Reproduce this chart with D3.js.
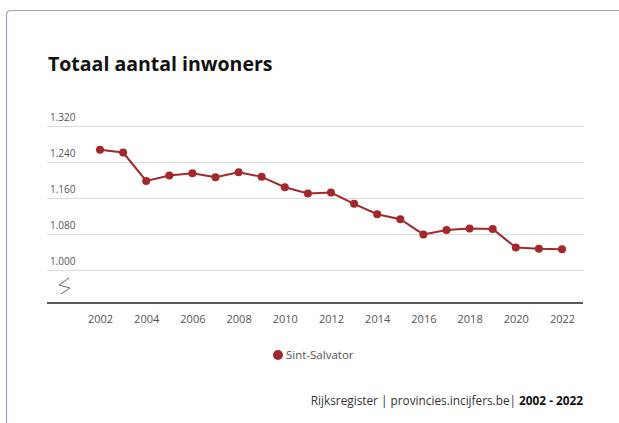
<!DOCTYPE html>
<html>
<head>
<meta charset="utf-8">
<script src="https://cdn.jsdelivr.net/npm/d3@7"></script>
<style>
  html, body { margin: 0; padding: 0; background: #fff; }
  svg { display: block; }
</style>
</head>
<body>
<div id="chart"></div>
<script>
const years = [2002, 2003, 2004, 2005, 2006, 2007, 2008, 2009, 2010, 2011, 2012,
               2013, 2014, 2015, 2016, 2017, 2018, 2019, 2020, 2021, 2022];
const inwoners = [1267, 1261, 1198, 1210, 1215, 1206, 1217, 1207, 1184, 1170, 1172,
                  1147, 1124, 1113, 1079, 1089, 1092, 1091, 1050, 1047, 1046];
const yTicks = [1000, 1080, 1160, 1240, 1320];
const xTicks = [2002, 2004, 2006, 2008, 2010, 2012, 2014, 2016, 2018, 2020, 2022];
const seriesName = "Sint-Salvator";

const width = 619, height = 423;
const red = "#a3282b";

const svg = d3.select("#chart").append("svg")
    .attr("width", width)
    .attr("height", height);

// card
svg.append("path")
    .attr("d", "M6.5," + (height + 5) + " L6.5,15 Q6.5,10.5 11,10.5 L" + (width + 5) + ",10.5")
    .attr("fill", "none")
    .attr("stroke", "#a3a3bb")
    .attr("stroke-width", 1.2);

svg.append("text")
    .attr("x", 48).attr("y", 71)
    .attr("font-family", "'Open Sans', sans-serif")
    .attr("font-weight", "bold")
    .attr("font-size", "19.5px")
    .attr("fill", "#111")
    .text("Totaal aantal inwoners");

const x = d3.scaleLinear().domain([2002, 2022]).range([100, 562]);
const y = d3.scaleLinear().domain([1000, 1320]).range([270, 126]);
const axisY = y(1000) + 33;

// gridlines + labels
const grid = svg.append("g");
grid.selectAll("line")
    .data(yTicks)
    .join("line")
    .attr("x1", 47).attr("x2", 583)
    .attr("y1", function(d) { return y(d) + 0.5; })
    .attr("y2", function(d) { return y(d) + 0.5; })
    .attr("stroke", "#dcdcdc")
    .attr("stroke-width", 1);

grid.selectAll("text")
    .data(yTicks)
    .join("text")
    .attr("x", 50)
    .attr("y", function(d) { return y(d) - 5; })
    .attr("font-family", "'Open Sans', sans-serif")
    .attr("font-size", "10px")
    .attr("fill", "#555")
    .text(function(d) { return d3.format(",")(d).replace(",", "."); });

// axis break symbol
svg.append("path")
    .attr("d", "M69,278 L59,285 L70,288 L61,294")
    .attr("fill", "none")
    .attr("stroke", "#666")
    .attr("stroke-width", 1);

// x axis
const xAxis = d3.axisBottom(x)
    .tickValues(xTicks)
    .tickSize(0)
    .tickPadding(12)
    .tickFormat(d3.format("d"));

const gx = svg.append("g")
    .attr("transform", "translate(0," + axisY + ")")
    .call(xAxis);
gx.select(".domain").remove();
gx.append("line")
    .attr("x1", 47).attr("x2", 583)
    .attr("stroke", "#222").attr("stroke-width", 1.5);
gx.selectAll("text")
    .attr("font-family", "'Open Sans', sans-serif")
    .attr("font-size", "11px")
    .attr("fill", "#555");

// line + dots
const pts = years.map(function(yr, i) { return { year: yr, value: inwoners[i] }; });

svg.append("path")
    .datum(pts)
    .attr("fill", "none")
    .attr("stroke", red)
    .attr("stroke-width", 2)
    .attr("d", d3.line()
        .x(function(d) { return x(d.year); })
        .y(function(d) { return y(d.value); }));

svg.append("g")
    .selectAll("circle")
    .data(pts)
    .join("circle")
    .attr("cx", function(d) { return x(d.year); })
    .attr("cy", function(d) { return y(d.value); })
    .attr("r", 4)
    .attr("fill", red);

// legend
svg.append("circle")
    .attr("cx", 278).attr("cy", 355).attr("r", 5)
    .attr("fill", red);
svg.append("text")
    .attr("x", 286).attr("y", 359)
    .attr("font-family", "'Open Sans', sans-serif")
    .attr("font-size", "11.5px")
    .attr("fill", "#555")
    .text(seriesName);

// source
const src = svg.append("text")
    .attr("x", 583).attr("y", 405)
    .attr("text-anchor", "end")
    .attr("font-family", "'Open Sans', sans-serif")
    .attr("font-size", "11.8px")
    .attr("fill", "#333");
src.append("tspan").text("Rijksregister | provincies.incijfers.be| ");
src.append("tspan").attr("font-weight", "bold").attr("fill", "#111").text("2002 - 2022");
</script>
</body>
</html>
